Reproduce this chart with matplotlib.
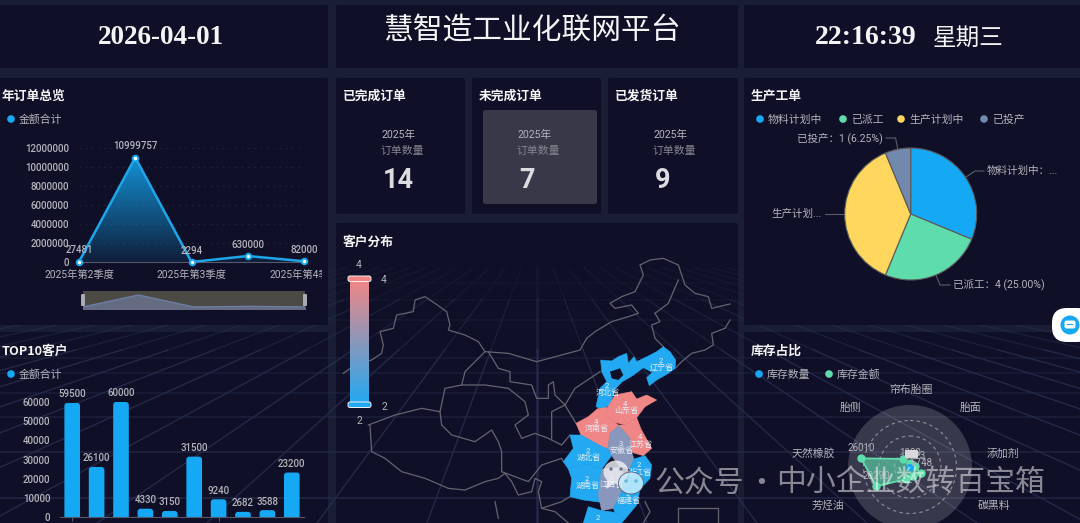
import numpy as np
import matplotlib
matplotlib.use("Agg")
from matplotlib import pyplot as plt
from matplotlib.colors import LinearSegmentedColormap
from matplotlib.patches import Circle, Ellipse, FancyBboxPatch, Polygon, Rectangle

W, H = 1080, 523

# line chart
quarters = ["2025年第2季度", "", "2025年第3季度", "", "2025年第4季度"]
order_amounts = [27481, 10999757, 2294, 630000, 82000]

# cards
card_titles = ["已完成订单", "未完成订单", "已发货订单"]
card_values = ["14", "7", "9"]

# bars
top10_amounts = [59500, 26100, 60000, 4330, 3150, 31500, 9240, 2682, 3588, 23200]

# pie
order_states = ["物料计划中", "已派工", "生产计划中", "已投产"]
state_counts = [5, 4, 6, 1]
state_labels = ["物料计划中：...", "已派工：4 (25.00%)", "生产计划...", "已投产：1 (6.25%)"]

# radar, the two lowest axes fall off the picture
radar_names = ["帘布胎圈", "胎面", "添加剂", "碳黑料", "", "", "芳烃油", "天然橡胶", "胎侧"]
stock_amount = [1980, 1200, 2623, 6748, 5200, 6800, 20290, 26010, 5600]
stock_count = [500, 300, 400, 700, 800, 600, 900, 1100, 600]
stock_amount_labels = ["1980", "", "2623", "6748", "", "", "20290", "26010", ""]

# map, traced in a 1215x894 frame
province_names = ["辽宁省", "河北省", "山东省", "河南省", "江苏省", "安徽省",
                  "湖北省", "浙江省", "湖南省", "江西省", "福建省", "广东省"]
province_values = [2, 2, 4, 4, 4, 3, 2, 2, 2, 3, 2, 2]
province_label_xy = [(980, 428), (818, 503), (873, 558), (785, 612), (918, 657), (860, 676),
                     (762, 697), (915, 741), (758, 782), (830, 780), (881, 827), (792, 900)]
province_shapes = [
    [(897, 395), (905, 410), (940, 393), (965, 380), (985, 365), (1005, 380), (1022, 405), (1020, 430),
     (1000, 445), (965, 465), (943, 482), (935, 458), (952, 442), (925, 428), (893, 452), (880, 415)],
    [(797, 405), (830, 408), (850, 395), (875, 385), (880, 415), (893, 452), (862, 470), (840, 492),
     (825, 540), (800, 552), (783, 545), (795, 490), (815, 470), (800, 440)],
    [(818, 547), (840, 510), (890, 500), (905, 522), (935, 510), (965, 525), (930, 545),
     (905, 578), (870, 600), (840, 592), (812, 572)],
    [(723, 595), (760, 575), (788, 551), (818, 547), (812, 572), (840, 592), (852, 602), (825, 625),
     (818, 672), (795, 662), (760, 642), (738, 630)],
    [(870, 600), (905, 578), (918, 612), (950, 670), (925, 692), (890, 682), (885, 640), (850, 600)],
    [(852, 602), (885, 640), (890, 682), (897, 702), (885, 732), (855, 727), (830, 692), (818, 672), (825, 625)],
    [(705, 630), (738, 630), (760, 642), (795, 662), (818, 672), (830, 692), (800, 732),
     (760, 717), (730, 722), (700, 732), (685, 710), (715, 670)],
    [(897, 702), (930, 692), (950, 720), (945, 760), (915, 792), (880, 772), (885, 732)],
    [(700, 732), (730, 722), (760, 717), (800, 732), (795, 790), (800, 832), (745, 825),
     (705, 815), (710, 760)],
    [(800, 732), (855, 727), (880, 772), (860, 800), (835, 850), (800, 857), (790, 810)],
    [(880, 772), (915, 792), (905, 840), (870, 882), (840, 862), (835, 850), (860, 800)],
    [(745, 894), (760, 845), (800, 857), (840, 862), (870, 882), (860, 894)],
]
beijing_hole = [(825, 440), (855, 430), (865, 450), (850, 465), (830, 460)]
border_lines = [
    [(25, 445), (60, 420), (110, 405), (140, 385), (145, 360), (135, 320), (175, 310), (185, 270),
     (235, 260), (240, 225), (270, 215), (300, 235), (335, 260), (345, 300), (340, 315), (390, 330),
     (430, 350), (450, 380), (520, 385), (605, 410), (680, 390), (735, 375), (755, 340), (780, 320),
     (830, 290), (880, 275), (910, 265), (890, 240), (840, 250), (825, 235), (860, 215), (900, 200),
     (925, 150), (915, 120), (945, 105), (985, 100), (1030, 120), (1050, 180), (1080, 205),
     (1120, 215), (1130, 250), (1185, 237)],
    [(1185, 285), (1170, 310), (1130, 325), (1135, 360), (1110, 375), (1070, 385), (1040, 410), (1020, 430)],
    [(960, 265), (975, 290), (950, 300), (960, 340), (985, 365)],
    [(1030, 165), (1000, 235), (960, 265)],
    [(105, 600), (110, 680), (150, 700), (200, 740), (270, 760), (340, 790), (390, 795), (450, 770),
     (490, 760), (510, 745), (530, 770), (550, 810), (590, 800), (600, 760), (620, 770), (610, 800),
     (620, 850), (660, 860), (700, 894)],
    [(100, 600), (180, 570), (260, 550), (315, 560), (320, 600), (350, 630), (420, 650), (470, 615),
     (490, 650), (500, 680), (500, 740)],
    [(315, 560), (330, 490), (380, 480), (390, 440), (450, 380)],
    [(380, 480), (450, 480), (520, 490), (570, 530), (580, 570), (540, 600), (560, 640), (600, 625),
     (640, 640), (680, 660), (705, 630)],
    [(460, 380), (490, 430), (525, 440), (525, 470), (590, 480), (605, 520), (640, 520), (640, 480),
     (655, 470), (660, 510), (690, 540), (650, 560), (650, 640)],
    [(690, 540), (720, 490), (780, 450), (795, 440)],
    [(690, 540), (723, 595)],
    [(500, 740), (580, 770), (620, 720), (680, 700), (685, 710)],
    [(480, 830), (490, 880)],
    [(620, 850), (680, 830), (705, 815)],
    [(930, 830), (945, 860), (925, 894)],
    [(1030, 894), (1030, 848), (1150, 848), (1150, 894)],
]

CJK = "Noto Sans CJK SC"
NUM = ["Roboto", CJK]
SERIF = ["Liberation Serif", CJK]
plt.rcParams["font.family"] = [CJK, "DejaVu Sans"]

PAGE = "#1a1e35"
PANEL = "#0f1027"
BLUE = "#15a8f5"
GREEN = "#5fdcab"
YELLOW = "#ffd75e"
SLATE = "#7288ad"
GREY = "#b4b4bc"
WHITE = "#f4f4f6"

fig = plt.figure(figsize=(W / 100, H / 100), dpi=100, facecolor=PAGE)


def px_axes(x0, y0, x1, y1, z=2, **kw):
    ax = fig.add_axes([x0 / W, 1 - y1 / H, (x1 - x0) / W, (y1 - y0) / H], zorder=z, **kw)
    ax.patch.set_alpha(0)
    return ax


def panel(ax, x0, y0, x1, y1, color=PANEL, z=1):
    p = FancyBboxPatch((x0 + 2, y0 + 2), x1 - x0 - 4, y1 - y0 - 4, boxstyle="round,pad=2,rounding_size=2",
                       fc=color, ec="none", zorder=z)
    ax.add_patch(p)
    return p


def plain_ticks(ax, ticks):
    ax.set_yticks(ticks)
    ax.set_yticklabels([str(t) for t in ticks], family=NUM, fontsize=7, color=GREY, fontweight="medium")
    ax.tick_params(axis="y", length=0, pad=7)


bg = px_axes(0, 0, W, H, z=0)
bg.set_xlim(0, W)
bg.set_ylim(H, 0)
bg.axis("off")

# lower panels sit under the perspective grid, the others cover it
for box in [(336, 223, 738, 530), (-5, 332, 328, 530), (744, 332, 1085, 530)]:
    panel(bg, *box)

vanish_x, vanish_y = 537, 225
for k in range(-16, 17):
    foot = vanish_x + 110 * k
    for ya, yb, a in [(268, 300, 0.2), (300, 350, 0.45), (350, 523, 0.75)]:
        xa = vanish_x + (foot - vanish_x) * (ya - vanish_y) / (523 - vanish_y)
        xb = vanish_x + (foot - vanish_x) * (yb - vanish_y) / (523 - vanish_y)
        bg.plot([xa, xb], [ya, yb], color="#2a3154", lw=1.0 + (k == 0) * 0.8, alpha=a, zorder=1.2)
for yy, a in [(283, 0.15), (300, 0.2), (320, 0.3), (358, 0.4), (373, 0.45), (393, 0.5), (417, 0.6), (452, 0.7), (498, 0.8)]:
    bg.plot([0, W], [yy, yy], color="#262c4b", lw=1.1, alpha=a, zorder=1.2)

for box in [(-5, 5, 328, 68), (336, 5, 738, 68), (744, 5, 1085, 68), (-5, 78, 328, 325),
            (744, 78, 1085, 325), (336, 78, 465, 214), (472, 78, 601, 214), (608, 78, 738, 214)]:
    panel(bg, *box, z=1.5)
panel(bg, 483, 110, 597, 204, color="#383849", z=1.6)

bg.text(161, 37, "2026-04-01", family=SERIF, fontsize=19.5, fontweight="bold", color=WHITE,
        ha="center", va="center", zorder=3)
bg.text(532, 30, "慧智造工业化联网平台", fontsize=21.4, color=WHITE, ha="center", va="center", zorder=3)
bg.text(866, 37, "22:16:39", family=SERIF, fontsize=20, fontweight="bold", color=WHITE, ha="center", va="center", zorder=3)
bg.text(968, 38, "星期三", fontsize=17, color=WHITE, ha="center", va="center", zorder=3)

for x, y, t in [(2, 96, "年订单总览"), (2, 351, "TOP10客户"), (343, 96, card_titles[0]), (479, 96, card_titles[1]),
                (615, 96, card_titles[2]), (343, 242, "客户分布"), (751, 96, "生产工单"), (751, 351, "库存占比")]:
    bg.text(x, y, t, fontsize=9.2, fontweight="bold", color=WHITE, va="center", zorder=3)

for x, title, val in zip([382, 518, 654], card_titles, card_values):
    bg.text(x, 135, "2025年", family=NUM, fontsize=7.6, color=GREY, va="center", zorder=3)
    bg.text(x - 1.5, 151, "订单数量", fontsize=7.8, color="#85858f", va="center", zorder=3)
    bg.text(x + 1, 181, val, family=NUM, fontsize=19.5, fontweight="bold", color="#dcdce0", va="center", zorder=3)


def legend_item(x, y, color, label):
    bg.add_patch(Circle((x, y), 3.8, fc=color, ec="none", zorder=3))
    bg.text(x + 8, y + 1, label, fontsize=7.8, color=GREY, va="center", zorder=3)


legend_item(11, 119, BLUE, "金额合计")
legend_item(11, 374, BLUE, "金额合计")
for x, c, t in zip([760, 843, 901, 984], [BLUE, GREEN, YELLOW, SLATE], order_states):
    legend_item(x, 119, c, t)
legend_item(759, 374, BLUE, "库存数量")
legend_item(829, 374, GREEN, "库存金额")

# year order line
ax = px_axes(79, 148, 304, 262)
xs = np.arange(len(order_amounts))
ax.set_xlim(0, 4)
ax.set_ylim(0, 12000000)
plain_ticks(ax, list(range(0, 12000001, 2000000)))
ax.grid(axis="y", color="#262840", lw=0.9, ls=(0, (1, 4)))
ax.set_axisbelow(True)
for s in ["top", "right", "left"]:
    ax.spines[s].set_visible(False)
ax.spines["bottom"].set_color("#55586a")
ax.set_xticks([])
area = ax.fill_between(xs, order_amounts, 0, color="none")
ramp = LinearSegmentedColormap.from_list("ramp", [(0.08, 0.66, 0.96, 0.85), (0.08, 0.66, 0.96, 0.1)])
im = ax.imshow(np.linspace(0, 1, 100).reshape(-1, 1), extent=(0, 4, 0, max(order_amounts)), origin="upper",
               aspect="auto", cmap=ramp, zorder=1.5)
im.set_clip_path(area.get_paths()[0], transform=ax.transData)
ax.set_xlim(0, 4)
ax.set_ylim(0, 12000000)
ax.plot(xs, order_amounts, color="#1ea6e8", lw=1.8, marker="o", ms=4, mfc="white", mec=BLUE, mew=1.4,
        clip_on=False, zorder=3)
for x, v in zip(xs, order_amounts):
    ax.annotate(str(v), (x, v), xytext=(0, 6), textcoords="offset points", ha="center", family=NUM,
                fontsize=7, fontweight="medium", color=GREY, annotation_clip=False, zorder=4)
clip = Rectangle((0, 78), 322, 247, transform=bg.transData)
for x, t in zip([79, 135, 191, 248, 304], quarters):
    txt = bg.text(x, 275, t, family=NUM, fontsize=7.4, color=GREY, ha="center", va="center", zorder=3)
    txt.set_clip_on(True)
    txt.set_clip_path(clip)

# range slider under the line chart
sl = px_axes(83, 291, 305, 309, z=3)
sl.set_xlim(0, 4)
sl.set_ylim(-1800000, 14700000)
sl.axis("off")
sl.add_patch(Rectangle((0, 0), 1, 1, transform=sl.transAxes, fc="#4b4a45", ec="none", zorder=0))
sl.fill_between(xs, order_amounts, -1800000, color="#656b80", zorder=1)
sl.plot(xs, order_amounts, color="#6b7ea6", lw=1, zorder=2)

# top 10 bars
ax = px_axes(60, 402, 304, 517)
positions = np.arange(len(top10_amounts))
ax.set_xlim(-0.5, 9.5)
ax.set_ylim(0, 60000)
plain_ticks(ax, list(range(0, 60001, 10000)))
ax.set_xticks([0, 6])
ax.set_xticklabels([])
for s in ["top", "right", "left"]:
    ax.spines[s].set_visible(False)
ax.spines["bottom"].set_color("#55586a")
ax.tick_params(axis="x", color="#55586a", length=3)
y_per_x = (60000 / 115) / (10 / 244)
for x, v in zip(positions, top10_amounts):
    b = FancyBboxPatch((x - 0.32, -3000), 0.64, v + 3000, boxstyle="round,pad=0,rounding_size=0.12",
                       mutation_aspect=y_per_x, fc=BLUE, ec="none")
    ax.add_patch(b)
    b.set_clip_path(Rectangle((-0.5, 0), 10, 70000, transform=ax.transData))
    ax.annotate(str(v), (x, v), xytext=(0, 4), textcoords="offset points", ha="center", family=NUM,
                fontsize=7, fontweight="medium", color=GREY, annotation_clip=False)

# pie
pie_r = 66
pie_x, pie_y = 910.7, 214
ax = px_axes(pie_x - pie_r, pie_y - pie_r, pie_x + pie_r, pie_y + pie_r)
wedges, _ = ax.pie(state_counts, colors=[BLUE, GREEN, YELLOW, SLATE], startangle=90, counterclock=False,
                   radius=1, wedgeprops=dict(edgecolor="#5a5a5a", linewidth=0.8))
ax.set_xlim(-1, 1)
ax.set_ylim(-1, 1)
label_spots = [(987, 171, "left"), (953, 285, "left"), (822, 214, "right"), (883, 138, "right")]
for w, t, (lx, ly, ha) in zip(wedges, state_labels, label_spots):
    mid = np.deg2rad((w.theta1 + w.theta2) / 2)
    sx, sy = pie_x + pie_r * np.cos(mid), pie_y - pie_r * np.sin(mid)
    ex = sx + (ly - sy) * np.cos(mid) / (-np.sin(mid)) if abs(np.sin(mid)) > 0.05 else (sx + lx) / 2
    ex = np.clip(ex, min(sx, lx), max(sx, lx))
    bg.plot([sx, ex, lx - 3 if ha == "left" else lx + 3], [sy, ly, ly], color="#5c5c66", lw=0.8, zorder=3)
    bg.text(lx, ly, t, family=NUM, fontsize=7.6, color=GREY, ha=ha, va="center", zorder=3)

# radar, goes past the bottom edge of the picture
rad = fig.add_axes([848 / W, 1 - 529 / H, 124 / W, 124 / H], projection="polar", zorder=2)
rad.set_theta_zero_location("N")
rad.set_theta_direction(-1)
rad.set_ylim(0, 32500)
rad.patch.set_facecolor("#ffffff")
rad.patch.set_alpha(0.17)
rad.spines["polar"].set_visible(False)
rad.set_yticks([8125, 16250, 24375])
rad.set_yticklabels([])
rad.set_xticks([])
rad.grid(True, axis="y", color="#8f8f9c", ls=(0, (3, 3)), lw=0.8)
angles = np.deg2rad(np.arange(len(radar_names)) * 40)
a_closed = np.append(angles, angles[0])
for vals, col, al in [(stock_count, BLUE, 0.75), (stock_amount, GREEN, 0.62)]:
    v_closed = np.append(vals, vals[0])
    rad.fill(a_closed, v_closed, color=col, alpha=al, zorder=3)
    rad.plot(a_closed, v_closed, color=col, lw=1.2, zorder=3)
rad.plot(angles, stock_amount, ls="none", marker="o", ms=5, color=GREEN, zorder=4, clip_on=False)
rad.plot(angles, stock_count, ls="none", marker="o", ms=2.5, color=BLUE, zorder=4, clip_on=False)
for ang, v, lab in zip(angles, stock_amount, stock_amount_labels):
    if lab:
        rad.annotate(lab, (ang, v), xytext=(0, 5), textcoords="offset points", ha="center", family=NUM,
                     fontsize=7, color=GREY, annotation_clip=False, zorder=5)
bg_top = px_axes(0, 0, W, H, z=9)
bg_top.set_xlim(0, W)
bg_top.set_ylim(H, 0)
bg_top.axis("off")
bg_top.add_patch(FancyBboxPatch((906, 451), 11, 6, boxstyle="round,pad=1,rounding_size=1", fc="#d8d8dc", ec="none"))
for ang, name in zip(angles, radar_names):
    sx, sy = 910.7 + 77 * np.sin(ang), 467 - 77 * np.cos(ang)
    ha = "center" if abs(np.sin(ang)) < 0.01 else ("left" if np.sin(ang) > 0 else "right")
    if name:
        bg_top.text(sx, sy, name, fontsize=7.8, color=GREY, ha=ha, va="center")

# slider handles
for hx in (83, 305):
    bg_top.add_patch(FancyBboxPatch((hx - 1, 295), 2, 10, boxstyle="round,pad=1,rounding_size=1",
                                    fc="#a9a9ae", ec="none"))

# customer map
mp = px_axes(335, 225, 740, 523)
mp.set_xlim(0, 1215)
mp.set_ylim(894, 0)
mp.axis("off")
for line in border_lines:
    arr = np.array(line)
    mp.plot(arr[:, 0], arr[:, 1], color="#64646f", lw=0.9, zorder=1)
map_cmap = LinearSegmentedColormap.from_list("map", ["#22a9f2", "#f08686"])
for shape, val in zip(province_shapes, province_values):
    mp.add_patch(Polygon(shape, closed=True, fc=map_cmap((val - 2) / 2), ec=map_cmap((val - 2) / 2), lw=0.4, zorder=2))
mp.add_patch(Polygon(beijing_hole, closed=True, fc=PANEL, ec="none", zorder=2.5))
for name, val, (lx, ly) in zip(province_names, province_values, province_label_xy):
    if ly < 894:
        mp.text(lx, ly, name, fontsize=5.8, color="#e8eef6", ha="center", va="center", zorder=3)
    mp.text(lx - 3, ly - 20, str(val), family=NUM, fontsize=5.5, color="#e8eef6", ha="center", va="center", zorder=3)

# value scale of the map
scale = px_axes(350, 280, 369, 405)
scale.imshow(np.linspace(1, 0, 100).reshape(-1, 1), aspect="auto", cmap=map_cmap)
scale.axis("off")
for y0, col in [(277, "#f08686"), (403, "#22a9f2")]:
    bg_top.add_patch(FancyBboxPatch((349, y0), 21, 3.5, boxstyle="round,pad=1,rounding_size=2", fc=col,
                                    ec="#f2f2f2", lw=0.7))
for x, y, t in [(359, 265, "4"), (384, 280, "4"), (384, 407, "2"), (359, 421, "2")]:
    bg_top.text(x, y, t, family=NUM, fontsize=7.5, color=GREY, ha="center", va="center")

# watermark and floating button
bg_top.add_patch(Ellipse((616, 472), 25, 23, fc="#f0f0f4", alpha=0.82, ec="none"))
bg_top.add_patch(Polygon([(607, 480), (606, 489), (615, 483)], fc="#f0f0f4", alpha=0.82, ec="none"))
bg_top.add_patch(Ellipse((631, 483), 25, 22, fc="#c4ecfb", alpha=0.88, ec="#505066", lw=0.6))
for ex, ey, c in [(611, 469, "#6f7690"), (621, 469, "#6f7690"), (626, 481, "#5cb8dc"), (636, 481, "#5cb8dc")]:
    bg_top.add_patch(Circle((ex, ey), 1.7, fc=c, ec="none"))
wm = dict(fontsize=21.5, color="white", alpha=0.5, va="center")
bg_top.text(654, 483, "公众号", **wm)
bg_top.text(746, 483, "·", **wm)
bg_top.text(776, 483, "中小企业数转百宝箱", **wm)

bg_top.add_patch(FancyBboxPatch((1052, 308), 40, 34, boxstyle="round,pad=0,rounding_size=15", fc="white", ec="none"))
bg_top.add_patch(Circle((1070, 325), 9.5, fc=BLUE, ec="none"))
bg_top.add_patch(FancyBboxPatch((1065, 321), 10, 7, boxstyle="round,pad=0.5,rounding_size=2", fc="white", ec="none"))
bg_top.add_patch(Rectangle((1067, 324), 6, 1.2, fc=BLUE, ec="none"))

fig.savefig("out.png", dpi=100, facecolor=fig.get_facecolor())
